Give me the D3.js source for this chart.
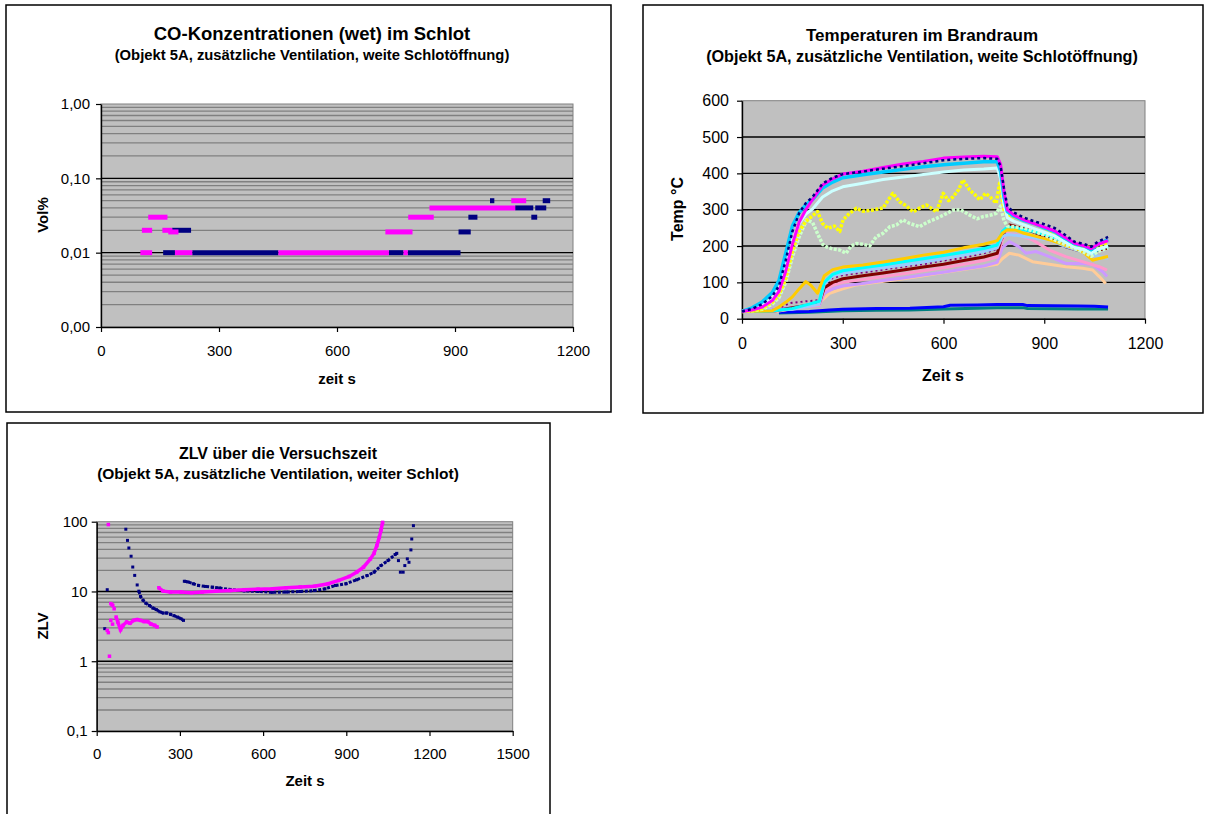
<!DOCTYPE html>
<html lang="de">
<head>
<meta charset="UTF-8">
<title>Objekt 5A - CO, Temperaturen, ZLV</title>
<script src="https://cdn.jsdelivr.net/npm/d3@7"></script>
<style>
  body { margin: 0; background: #fff; }
  svg { display: block; font-family: "Liberation Sans", Arial, sans-serif; }
  .ttl { font-weight: bold; text-anchor: middle; fill: #000; }
</style>
</head>
<body>
<svg id="fig" width="1206" height="814"></svg>
<script>
// ---------- chart 1: CO concentration (runs of equal value: [t from, t to, Vol%]) ----------
const coTimeTicks = [0, 300, 600, 900, 1200];
const coTicks = [0.001, 0.01, 0.1, 1];
const coNavy = [
  [158, 188, 0.01], [181, 229, 0.02], [232, 451, 0.01], [732, 769, 0.01], [780, 914, 0.01],
  [909, 940, 0.019], [934, 957, 0.03], [989, 1000, 0.05], [1053, 1099, 0.04],
  [1094, 1109, 0.03], [1104, 1132, 0.04], [1123, 1142, 0.05]
];
const coMagenta = [
  [100, 130, 0.01], [104, 130, 0.02], [120, 169, 0.03], [156, 181, 0.02], [171, 197, 0.019],
  [188, 232, 0.01], [451, 732, 0.01], [723, 792, 0.019], [769, 780, 0.01], [781, 846, 0.03],
  [835, 1053, 0.04], [1043, 1081, 0.05]
];

// ---------- chart 2: temperatures [t s, °C] ----------
const tempTimeTicks = [0, 300, 600, 900, 1200];
const tempTicks = [0, 100, 200, 300, 400, 500, 600];
const tNavy = [[0,20],[30,27],[60,40],[90,62],[110,90],[130,160],[150,240],[170,290],[190,318],[210,335],[240,372],[270,388],[300,398],[360,405],[420,413],[480,420],[540,428],[600,436],[660,440],[720,442],[760,440],[770,420],[780,360],[790,310],[810,292],[840,278],[870,268],[900,260],[930,250],[960,232],[990,212],[1020,205],[1040,198],[1060,212],[1090,225]];
const tMagenta = [[0,20],[30,24],[60,32],[90,50],[110,75],[130,130],[150,205],[170,265],[190,300],[210,328],[240,368],[270,385],[300,398],[360,406],[420,416],[480,426],[540,433],[600,442],[660,445],[720,447],[760,446],[770,425],[780,350],[790,300],[810,285],[840,272],[870,262],[900,252],[930,242],[960,225],[990,208],[1020,200],[1040,193],[1060,205],[1090,215]];
const tSky = [[0,20],[30,30],[60,46],[90,72],[110,105],[130,180],[150,255],[170,292],[190,313],[210,328],[240,360],[270,376],[300,388],[360,396],[420,404],[480,411],[540,418],[600,424],[660,428],[720,432],[760,432],[770,405],[780,335],[790,295],[810,282],[840,270],[870,262],[900,250],[930,240],[960,222],[990,206],[1020,200],[1040,190],[1060,205],[1090,218]];
const tLightTurq = [[0,20],[30,25],[60,36],[90,56],[110,82],[130,140],[150,215],[170,262],[190,288],[210,302],[240,335],[270,352],[300,363],[360,373],[420,383],[480,390],[540,397],[600,404],[660,409],[720,412],[760,415],[770,385],[780,315],[790,278],[810,268],[840,258],[870,248],[900,238],[930,228],[960,212],[990,196],[1020,190],[1040,180],[1060,192],[1090,200]];
const tYellow = [[0,20],[30,22],[60,28],[90,45],[110,65],[130,110],[150,185],[170,240],[190,268],[207,281],[225,295],[240,262],[256,249],[275,255],[291,240],[301,272],[320,290],[341,304],[360,296],[390,299],[420,305],[449,345],[469,322],[490,310],[509,294],[530,305],[549,313],[579,294],[599,345],[615,325],[629,336],[645,355],[658,382],[678,354],[695,340],[708,327],[725,345],[738,336],[757,318],[767,373],[780,300],[790,285],[810,280],[840,272],[870,262],[900,250],[930,235],[960,218],[990,203],[1020,198],[1040,195],[1060,200],[1090,205]];
const tLightGreen = [[0,20],[30,22],[60,26],[90,40],[110,58],[130,100],[150,170],[170,225],[192,272],[210,265],[227,230],[240,205],[251,198],[270,192],[291,189],[310,180],[325,200],[341,207],[360,205],[380,200],[400,226],[420,235],[440,253],[460,258],[479,272],[500,262],[529,253],[550,265],[579,276],[600,285],[629,299],[650,300],[678,285],[700,275],[718,281],[740,285],[757,290],[770,310],[780,270],[790,255],[840,250],[900,230],[960,205],[1020,182],[1040,172],[1060,185],[1090,195]];
const tGold = [[0,20],[90,22],[110,32],[130,45],[150,60],[170,82],[190,102],[205,92],[225,70],[245,118],[270,135],[300,142],[360,148],[420,156],[480,165],[540,175],[600,183],[660,195],[720,205],[760,215],[775,235],[790,245],[815,244],[840,235],[870,228],[915,217],[960,203],[994,194],[1020,180],[1044,161],[1060,165],[1090,171]];
const tTurq = [[0,20],[90,21],[150,28],[200,40],[230,48],[245,100],[270,122],[300,132],[360,140],[420,148],[480,157],[540,165],[600,174],[660,183],[720,193],[760,203],[775,240],[790,252],[815,250],[840,245],[870,240],[915,228],[960,212],[994,200],[1020,195],[1044,182],[1060,190],[1090,200]];
const tPaleBlue = [[0,20],[150,26],[230,40],[245,95],[270,118],[300,125],[360,133],[420,140],[480,148],[540,156],[600,165],[660,175],[720,185],[760,195],[775,225],[790,232],[815,230],[870,222],[915,217],[960,200],[1014,184],[1040,178],[1064,171],[1090,166]];
const tViolet = [[0,20],[100,25],[143,43],[190,48],[232,51],[245,95],[270,112],[300,120],[360,127],[420,135],[480,143],[540,150],[600,160],[660,168],[720,180],[760,192],[775,220],[790,250],[840,252],[900,238],[960,210],[1020,190],[1040,185],[1060,195],[1090,205]];
const tDarkRed = [[0,20],[100,22],[150,30],[200,38],[230,42],[245,85],[270,100],[300,110],[360,118],[420,126],[480,134],[540,142],[600,150],[660,160],[720,170],[760,180],[775,230],[796,258],[830,250],[865,240],[915,221],[964,198],[1000,188],[1034,180],[1060,188],[1087,194]];
const tRose = [[0,20],[100,21],[230,38],[245,78],[270,92],[300,100],[360,108],[420,116],[480,124],[540,132],[600,140],[660,150],[720,160],[760,170],[775,215],[787,235],[825,230],[865,217],[915,189],[964,171],[1014,157],[1064,143],[1087,134]];
const tLavender = [[0,20],[230,36],[245,70],[270,82],[300,90],[360,97],[420,105],[480,112],[540,120],[600,128],[660,137],[720,145],[760,155],[775,195],[796,212],[825,198],[845,180],[875,185],[915,171],[964,152],[1014,152],[1044,149],[1074,129],[1087,116]];
const tTan = [[0,20],[100,20],[200,35],[232,45],[261,70],[300,82],[341,93],[400,100],[480,110],[540,118],[600,127],[678,138],[760,150],[775,165],[796,180],[825,175],[865,157],[915,150],[964,143],[1014,139],[1044,134],[1064,116],[1083,97]];
const tBlue = [[110,18],[200,20],[260,24],[300,26],[400,28],[500,29],[600,33],[620,37],[700,38],[760,39],[836,39],[850,36],[1000,35],[1050,34],[1090,32]];
const tTeal = [[110,16],[200,18],[300,22],[400,23],[500,24],[600,27],[700,29],[760,30],[840,30],[850,28],[1000,27],[1090,27]];

// ---------- chart 3: ZLV [t s, ZLV] ----------
const zlvTimeTicks = [0, 300, 600, 900, 1200, 1500];
const zlvTicks = [0.1, 1, 10, 100];
const zlvNavyEarly = [[29,2.93],[38,10.6]];
const zlvNavyFall = [[105,78],[111,54],[116,42],[124,32],[130,22.4],[137,17],[146,12.4]];
const zlvNavyTail = [[152,10.1],[158,8.5],[167,7.5],[177,6.8],[190,6.3],[202,5.8],[215,5.5],[228,5.1],[240,4.9],[253,4.9],[266,4.7],[278,4.5],[291,4.3],[304,4.07],[313,3.85]];
const zlvNavyFlat = [[316,14],[329,13.7],[348,12.9],[367,12.2],[392,11.8],[418,11.5],[443,11.2],[481,10.7],[532,10.2],[582,10],[633,9.7],[683,9.8],[734,10],[785,10.3],[823,10.9],[861,12.2],[899,12.9],[937,14.7],[975,16.9],[1000,18.9],[1025,23.5],[1050,27.7],[1076,33.8],[1082,35.2]];
const zlvNavyEnd = [[1088,27.7],[1095,18.9],[1105,18.9],[1111,23.5],[1120,29.3],[1126,26.2],[1133,39.4],[1136,56.5],[1142,87.7]];
const zlvMagEarly = [[42,91],[38,2.77],[42,2.57],[46,1.18],[51,6.7],[55,6.5],[58,6.3],[63,5.65],[51,3.85],[57,3.4]];
const zlvMagLow = [[70,4.3],[76,3.65],[86,2.83],[95,3.27],[108,3.65],[120,3.5],[133,3.85],[146,3.95],[158,3.85],[171,3.7],[184,3.7],[196,3.4],[209,3.27],[218,3.1]];
const zlvMagFlat = [[224,11.3],[240,10.1],[266,9.8],[304,9.8],[342,9.6],[380,9.8],[430,10.1],[481,10.3],[532,10.6],[582,10.8],[633,10.9],[683,11.3],[734,11.6],[785,11.9],[835,12.9],[873,14.4],[911,16.4],[937,18.9],[962,22.3],[987,29.3],[1000,35.2],[1010,45.4],[1019,59.7],[1025,76],[1031,97.8]];

const svg = d3.select("#fig");
const de = d3.formatLocale({ decimal: ",", thousands: ".", grouping: [3], currency: ["", " €"] });

function frame(x0, y0, x1, y1) {
  svg.append("rect")
    .attr("x", x0).attr("y", y0).attr("width", x1 - x0).attr("height", y1 - y0)
    .attr("fill", "#fff").attr("stroke", "#000").attr("stroke-width", 1.5);
}

function decadeMinors(decades, top) {
  return decades.flatMap(d => d3.range(2, 10).map(m => m * d)).filter(v => v < top);
}

// plot area, gridlines and both axes
function panel(p) {
  const [x0, x1] = p.x.range();
  const [yb, yt] = p.y.range();
  const g = svg.append("g");
  g.append("rect").attr("x", x0).attr("y", yt).attr("width", x1 - x0).attr("height", yb - yt)
    .attr("fill", "#c0c0c0").attr("stroke", "#808080").attr("stroke-width", 1);
  g.append("g").selectAll("line").data(p.minor).join("line")
    .attr("x1", x0).attr("x2", x1).attr("y1", d => p.y(d)).attr("y2", d => p.y(d))
    .attr("stroke", "#808080").attr("stroke-width", 1.3);
  g.append("g").selectAll("line").data(p.major).join("line")
    .attr("x1", x0).attr("x2", x1).attr("y1", d => p.y(d)).attr("y2", d => p.y(d))
    .attr("stroke", "#000").attr("stroke-width", 1.4);

  const ay = g.append("g").attr("transform", `translate(${x0},0)`)
    .call(d3.axisLeft(p.y).tickValues(p.yTicks).tickFormat(p.yFmt).tickSize(5).tickSizeOuter(0).tickPadding(p.yPad));
  const ax = g.append("g").attr("transform", `translate(0,${yb})`)
    .call(d3.axisBottom(p.x).tickValues(p.xTicks).tickFormat(d3.format("d")).tickSize(5).tickSizeOuter(0).tickPadding(p.xPad));
  [ay, ax].forEach(a => {
    a.attr("font-family", null).attr("font-size", p.fs);
    a.select(".domain").attr("stroke", "#000").attr("stroke-width", 1.4);
    a.selectAll(".tick line").attr("stroke", "#000").attr("stroke-width", 1.2);
    a.selectAll(".tick text").attr("fill", "#000");
  });
  return g;
}

function titles(cx, t1, s1, y1, t2, s2, y2) {
  svg.append("text").attr("class", "ttl").attr("x", cx).attr("y", y1).attr("font-size", s1).text(t1);
  svg.append("text").attr("class", "ttl").attr("x", cx).attr("y", y2).attr("font-size", s2).text(t2);
}

function axisTitles(xx, xy, xt, yx, yy, yt, fs) {
  svg.append("text").attr("class", "ttl").attr("x", xx).attr("y", xy).attr("font-size", fs).text(xt);
  svg.append("text").attr("class", "ttl").attr("font-size", fs)
    .attr("transform", `translate(${yx},${yy}) rotate(-90)`).text(yt);
}

// ===== chart 1 =====
frame(6, 5, 611, 412);
const x1s = d3.scaleLinear().domain([0, 1200]).range([101, 573]);
const y1s = d3.scaleLog().domain([0.001, 1]).range([327, 104]);
panel({
  x: x1s, y: y1s, xTicks: coTimeTicks, yTicks: coTicks, yFmt: de.format(".2f"),
  minor: decadeMinors([0.001, 0.01, 0.1], 1), major: [0.01, 0.1],
  yPad: 6, xPad: 13, fs: 15
});
const coG = svg.append("g");
[[coNavy, "#000080"], [coMagenta, "#ff00ff"]].forEach(([runs, col]) => {
  coG.append("g").selectAll("line").data(runs).join("line")
    .attr("x1", d => x1s(d[0])).attr("x2", d => x1s(d[1]))
    .attr("y1", d => y1s(d[2])).attr("y2", d => y1s(d[2]))
    .attr("stroke", col).attr("stroke-width", 5);
});
titles(312, "CO-Konzentrationen (wet) im Schlot", 18.5, 40, "(Objekt 5A, zusätzliche Ventilation, weite Schlotöffnung)", 14.8, 60);
axisTitles(337, 384, "zeit s", 48, 215, "Vol%", 15);

// ===== chart 2 =====
frame(643, 5, 1203, 413);
const x2s = d3.scaleLinear().domain([0, 1200]).range([742, 1145]);
const y2s = d3.scaleLinear().domain([0, 600]).range([318.7, 100.7]);
panel({
  x: x2s, y: y2s, xTicks: tempTimeTicks, yTicks: tempTicks, yFmt: d3.format("d"),
  minor: [], major: [100, 200, 300, 400, 500],
  yPad: 8, xPad: 14, fs: 16
});
const tempLines = [
  { data: tTeal, color: "#008080", w: 3 },
  { data: tBlue, color: "#0000ff", w: 3 },
  { data: tTan, color: "#ffcc99", w: 3 },
  { data: tLavender, color: "#cc99ff", w: 3 },
  { data: tRose, color: "#ff99cc", w: 3 },
  { data: tDarkRed, color: "#800000", w: 3 },
  { data: tViolet, color: "#800080", w: 2, dash: "2,3" },
  { data: tPaleBlue, color: "#99ccff", w: 3 },
  { data: tTurq, color: "#00ffff", w: 3 },
  { data: tGold, color: "#ffcc00", w: 3 },
  { data: tLightGreen, color: "#ccffcc", w: 3.5, dash: "3,1.5" },
  { data: tYellow, color: "#ffff00", w: 3.5, dash: "3,1.5" },
  { data: tLightTurq, color: "#ccffff", w: 3 },
  { data: tSky, color: "#00ccff", w: 3.5 },
  { data: tMagenta, color: "#ff00ff", w: 3 },
  { data: tNavy, color: "#000080", w: 2.5, dash: "3,3" }
];
const line2 = d3.line().x(d => x2s(d[0])).y(d => y2s(d[1]));
svg.append("g").selectAll("path").data(tempLines).join("path")
  .attr("d", d => line2(d.data)).attr("fill", "none")
  .attr("stroke", d => d.color).attr("stroke-width", d => d.w)
  .attr("stroke-dasharray", d => d.dash || null).attr("stroke-linejoin", "round");
titles(922, "Temperaturen im Brandraum", 17, 41, "(Objekt 5A, zusätzliche Ventilation, weite Schlotöffnung)", 16.2, 62);
axisTitles(943, 381, "Zeit s", 683, 209, "Temp °C", 16);

// ===== chart 3 =====
frame(7, 423, 550, 830);
const x3s = d3.scaleLinear().domain([0, 1500]).range([96.7, 512.7]);
const y3s = d3.scaleLog().domain([0.1, 100]).range([731, 521.7]);
panel({
  x: x3s, y: y3s, xTicks: zlvTimeTicks, yTicks: zlvTicks, yFmt: d => de.format(",")(d),
  minor: decadeMinors([0.1, 1, 10], 100), major: [1, 10],
  yPad: 4, xPad: 12, fs: 15
});
const line3 = d3.line().x(d => x3s(d[0])).y(d => y3s(d[1]));
const zlvG = svg.append("g");
function zlvSeries(lines, dots, color, w, m, dash) {
  zlvG.append("g").selectAll("path").data(lines).join("path")
    .attr("d", line3).attr("fill", "none").attr("stroke", color)
    .attr("stroke-width", w).attr("stroke-dasharray", dash || null);
  zlvG.append("g").selectAll("rect").data(dots.flat()).join("rect")
    .attr("x", d => x3s(d[0]) - m / 2).attr("y", d => y3s(d[1]) - m / 2)
    .attr("width", m).attr("height", m).attr("fill", color);
}
zlvSeries([zlvNavyTail, zlvNavyFlat], [zlvNavyEarly, zlvNavyFall, zlvNavyTail, zlvNavyFlat, zlvNavyEnd], "#000080", 3, 3, "3,1.5");
zlvSeries([zlvMagLow, zlvMagFlat], [zlvMagEarly, zlvMagLow, zlvMagFlat], "#ff00ff", 3.5, 3.5);
titles(278, "ZLV über die Versuchszeit", 16, 459, "(Objekt 5A, zusätzliche Ventilation, weiter Schlot)", 15.5, 479);
axisTitles(305, 786, "Zeit s", 48, 626, "ZLV", 15);
</script>
</body>
</html>
